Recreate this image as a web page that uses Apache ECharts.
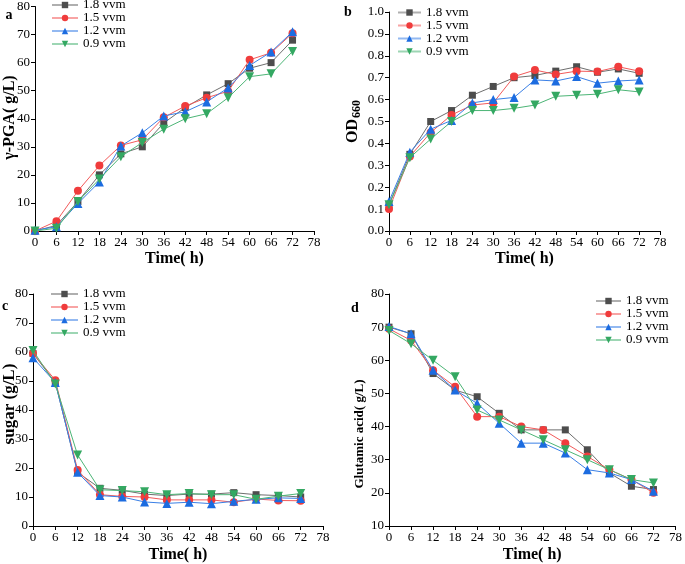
<!DOCTYPE html>
<html>
<head>
<meta charset="utf-8">
<script src="https://cdn.jsdelivr.net/npm/echarts@6/dist/echarts.min.js"></script>
<style>
html,body{margin:0;padding:0;background:#fff;}
#chart{width:685px;height:564px;}
</style>
</head>
<body>
<div id="chart"></div>
<script>
// ---- data ----
const hours = [0, 6, 12, 18, 24, 30, 36, 42, 48, 54, 60, 66, 72];
const seriesNames = ['1.8 vvm', '1.5 vvm', '1.2 vvm', '0.9 vvm'];
const xTicks = [0, 6, 12, 18, 24, 30, 36, 42, 48, 54, 60, 66, 72, 78];

// a: γ-PGA (g/L)
const pga18 = [0, 2, 10.5, 20, 27.5, 30, 38.5, 44, 48.5, 52.5, 58, 60, 68];
const pga15 = [0, 3.5, 14.3, 23.3, 30.5, 32.5, 40.5, 44.5, 47.5, 49.8, 61, 63.5, 70.5];
const pga12 = [0.3, 1.5, 9.8, 17.5, 30.3, 35, 41, 42.5, 46, 51, 59, 63.8, 71];
const pga09 = [0, 1, 10.5, 18.5, 26.5, 31.5, 36.3, 40, 41.8, 47.5, 55, 56, 64];

// b: OD660
const od18 = [0.12, 0.35, 0.50, 0.55, 0.62, 0.66, 0.70, 0.71, 0.73, 0.75, 0.725, 0.74, 0.72];
const od15 = [0.10, 0.34, 0.45, 0.53, 0.575, 0.585, 0.705, 0.735, 0.715, 0.73, 0.728, 0.75, 0.73];
const od12 = [0.135, 0.36, 0.465, 0.505, 0.585, 0.60, 0.61, 0.69, 0.685, 0.705, 0.675, 0.685, 0.69];
const od09 = [0.12, 0.335, 0.42, 0.50, 0.55, 0.55, 0.56, 0.575, 0.615, 0.62, 0.625, 0.645, 0.635];

// c: sugar (g/L)
const sugar18 = [59.5, 49.5, 18.5, 13, 12.3, 11, 10.5, 11, 11, 11.5, 10.8, 10.5, 10];
const sugar15 = [59.5, 50.3, 19.3, 10.8, 10.2, 10, 9, 9, 9, 8.2, 9.3, 8.8, 8.7];
const sugar12 = [58, 49.5, 18.5, 10.5, 10, 8.3, 7.8, 8.2, 7.7, 8.5, 9.2, 9.7, 9.5];
const sugar09 = [60.5, 49, 24.5, 12.5, 12.2, 11.8, 10.8, 11.2, 10.8, 10.8, 9.2, 10.3, 11.2];

// d: Glutamic acid (g/L)
const glu18 = [70, 68, 56, 51, 49, 44, 39, 39, 39, 33, 26, 22, 21];
const glu15 = [69.5, 66, 57, 52, 43, 43, 40, 39, 35, 31, 27, 24, 20];
const glu12 = [70.2, 68, 57, 51, 47, 41, 35, 35, 32, 27, 26, 24, 20.5];
const glu09 = [69, 65, 60, 55, 45, 42, 39, 36, 33, 30, 27, 24, 23];

// ---- styling ----
const colors = ['#4d4d4d', '#f03c3c', '#1c6ce0', '#34a862'];
const lineColors = ['#6e6e6e', '#f25a5a', '#3a80e6', '#4cb576'];
const symbols = ['rect', 'circle', 'triangle', 'triangle'];
const symbolRot = [0, 0, 0, 180];
const symbolSizes = [7, 8, 9, 9];
const FONT = '"Liberation Serif", "Times New Roman", serif';

const panels = [
  { data: [pga18, pga15, pga12, pga09], grid: { left: 35, top: 6, width: 279, height: 225 },
    yMin: 0, yMax: 80, yInt: 10, dec: 0, nameGap: 20,
    legend: { left: 51, top: -1.5, itemWidth: 26, gap: 4 } },
  { data: [od18, od15, od12, od09], grid: { left: 389, top: 12, width: 271, height: 219 },
    yMin: 0, yMax: 1.0, yInt: 0.1, dec: 1, nameGap: 20,
    legend: { left: 397, top: 6, itemWidth: 23, gap: 5 } },
  { data: [sugar18, sugar15, sugar12, sugar09], grid: { left: 33, top: 294, width: 290, height: 232 },
    yMin: 0, yMax: 80, yInt: 10, dec: 0, nameGap: 21,
    legend: { left: 50, top: 287.5, itemWidth: 27, gap: 4 } },
  { data: [glu18, glu15, glu12, glu09], grid: { left: 389, top: 294, width: 290, height: 233 },
    yMin: 10, yMax: 80, yInt: 10, dec: 0, nameGap: 21,
    legend: { left: 595, top: 294.5, itemWidth: 25, gap: 5 } }
];

const grids = [], xAxes = [], yAxes = [], series = [], legends = [];
panels.forEach((p, pi) => {
  grids.push(p.grid);
  xAxes.push({
    type: 'value', gridIndex: pi, min: 0, max: 78, interval: 6,
    name: 'Time( h)', nameLocation: 'middle', nameGap: p.nameGap,
    nameTextStyle: { fontFamily: FONT, fontWeight: 'bold', fontSize: 16, color: '#000' },
    axisLine: { show: true, lineStyle: { color: '#000', width: 1 } },
    axisTick: { show: true, length: 4, lineStyle: { color: '#000' } },
    axisLabel: { fontFamily: FONT, fontSize: 13, color: '#000', margin: 5 },
    splitLine: { show: false }
  });
  yAxes.push({
    type: 'value', gridIndex: pi, min: p.yMin, max: p.yMax, interval: p.yInt,
    axisLine: { show: true, lineStyle: { color: '#000', width: 1 } },
    axisTick: { show: true, length: 4, lineStyle: { color: '#000' } },
    axisLabel: { fontFamily: FONT, fontSize: 13, color: '#000', margin: 5,
      formatter: v => v.toFixed(p.dec) },
    splitLine: { show: false }
  });
  p.data.forEach((arr, si) => {
    series.push({
      type: 'line', name: seriesNames[si], xAxisIndex: pi, yAxisIndex: pi,
      data: hours.map((h, i) => [h, arr[i]]),
      symbol: symbols[si], symbolSize: symbolSizes[si], symbolRotate: symbolRot[si],
      itemStyle: { color: colors[si] },
      lineStyle: { color: lineColors[si], width: 1 },
      emphasis: { disabled: true },
      animation: false, z: 2 + si
    });
  });
  legends.push({
    orient: 'vertical', left: p.legend.left, top: p.legend.top, padding: 0,
    itemWidth: p.legend.itemWidth, itemHeight: 8, itemGap: 0, itemTextGap: p.legend.gap,
    data: seriesNames, selectedMode: false,
    lineStyle: { width: 2, opacity: 0.55 },
    textStyle: { fontFamily: FONT, fontSize: 13, lineHeight: 13, color: '#000' }
  });
});

const yNames = [
  { x: 10, y: 117.5, text: 'γ-PGA( g/L)', size: 16 },
  { x: 353, y: 131, text: 'OD', size: 16 },
  { x: 357, y: 109, text: '660', size: 12 },
  { x: 10, y: 404, text: 'sugar (g/L)', size: 17 },
  { x: 360, y: 434, text: 'Glutamic acid( g/L)', size: 13 }
];
const graphics = [];
yNames.forEach(n => {
  graphics.push({
    type: 'text', x: n.x, y: n.y, rotation: Math.PI / 2,
    style: { text: n.text, align: 'center', verticalAlign: 'middle',
      fontFamily: FONT, fontWeight: 'bold', fontSize: n.size, fill: '#000' }
  });
});
[['a', 9, 15], ['b', 348, 12], ['c', 5, 306], ['d', 355, 308]].forEach(l => {
  graphics.push({
    type: 'text', x: l[1], y: l[2],
    style: { text: l[0], align: 'center', verticalAlign: 'middle',
      fontFamily: FONT, fontWeight: 'bold', fontSize: 14, fill: '#000' }
  });
});

const chart = echarts.init(document.getElementById('chart'), null, { renderer: 'canvas' });
chart.setOption({
  backgroundColor: '#fff',
  animation: false,
  grid: grids,
  xAxis: xAxes,
  yAxis: yAxes,
  legend: legends,
  series: series,
  graphic: graphics
});
</script>
</body>
</html>
